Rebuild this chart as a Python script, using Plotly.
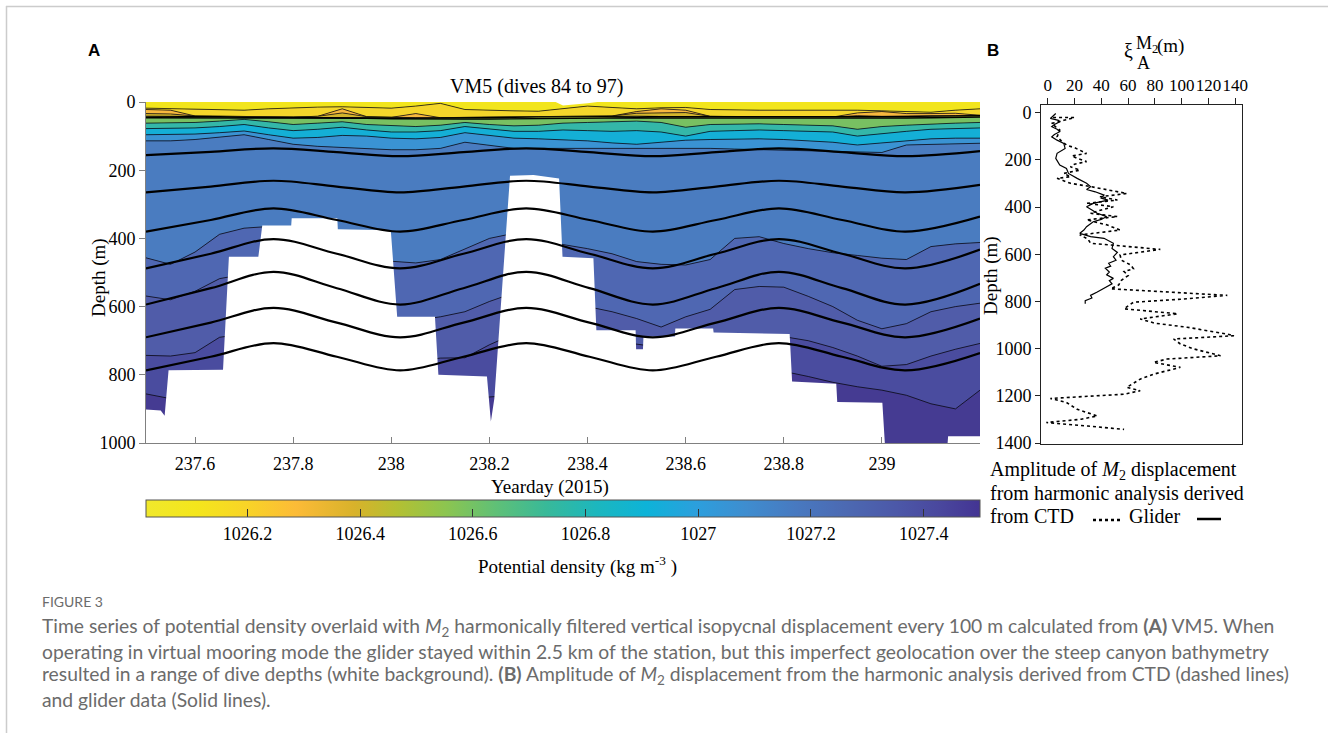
import plotly.graph_objects as go

W, H = 1328, 733
def px(x):
    return x / W
def py(y):
    return 1 - y / H

SERIF = "Liberation Serif, Times New Roman, serif"
SANS = "Liberation Sans, Arial, sans-serif"
CAP = "Lato, Roboto, sans-serif"

# ---------------- data: panel A ----------------
times = [237.50, 237.55, 237.60, 237.65, 237.70, 237.75, 237.80, 237.85, 237.90, 237.95,
         238.00, 238.05, 238.10, 238.15, 238.20, 238.25, 238.30, 238.35, 238.40, 238.45,
         238.50, 238.55, 238.60, 238.65, 238.70, 238.75, 238.80, 238.85, 238.90, 238.95,
         239.00, 239.05, 239.10, 239.15, 239.20]

# depth (m) of isopycnals
sig_1026_10 = [18, 20, 22, 23, 24, 20, 17, 15, 14, 16, 18, 12, 4, 22, 25, 26, 27, 20, 12, 16,
               20, 17, 16, 22, 24, 24, 24, 24, 23, 24, 26, 28, 30, 24, 20]
sig_1026_20 = [22, 24, 41, 42, 44, 44, 44, 42, 20, 43, 45, 34, 46, 45, 45, 44, 43, 42, 41, 41,
               28, 20, 24, 42, 43, 44, 44, 44, 44, 32, 28, 34, 34, 33, 39]
sig_1026_30 = [34, 35, 41, 42, 44, 44, 44, 42, 32, 43, 45, 46, 46, 45, 45, 44, 43, 42, 41, 41,
               33, 33, 31, 42, 43, 44, 44, 44, 44, 40, 42, 40, 40, 40, 39]
sig_1026_40 = [42, 42, 43, 43, 45, 45, 45, 44, 44, 45, 46, 47, 47, 46, 46, 45, 44, 43, 42, 42,
               42, 43, 43, 43, 44, 45, 45, 45, 45, 45, 44, 43, 42, 41, 40]
sig_1026_50 = [46, 46, 47, 47, 48, 48, 48, 47, 47, 48, 49, 50, 50, 50, 50, 49, 48, 47, 46, 46,
               46, 47, 47, 47, 48, 49, 49, 49, 49, 49, 48, 47, 46, 45, 44]
sig_1026_60 = [62, 62, 60, 56, 51, 58, 66, 62, 58, 66, 70, 72, 68, 60, 66, 70, 68, 62, 60, 58,
               56, 60, 74, 66, 64, 64, 66, 68, 70, 80, 72, 68, 64, 62, 60]
sig_1026_70 = [78, 78, 76, 72, 66, 76, 84, 80, 74, 82, 88, 88, 84, 72, 80, 86, 86, 82, 84, 86,
               84, 88, 100, 86, 84, 82, 84, 86, 88, 100, 92, 86, 80, 78, 76]
sig_1026_85 = [96, 96, 94, 90, 85, 96, 106, 104, 98, 100, 106, 108, 104, 90, 98, 106, 108, 110, 114, 120,
               124, 118, 112, 110, 108, 108, 110, 114, 118, 126, 120, 112, 108, 106, 106]
sig_1027_00 = [114, 114, 110, 104, 96, 110, 124, 130, 134, 138, 140, 140, 136, 118, 128, 136, 136, 136, 136, 134,
               134, 134, 134, 136, 138, 140, 142, 144, 146, 148, 148, 126, 124, 122, 121]
sig_1027_15 = [457, 476, 440, 388, 370, 365, 380, 410, 440, 462, 468, 472, 462, 430, 400, 385, 395, 418, 430, 445,
               468, 476, 478, 462, 400, 395, 415, 430, 442, 450, 458, 462, 424, 416, 412]
sig_1027_25 = [569, 580, 555, 518, 505, 500, 510, 540, 580, 610, 635, 640, 630, 615, 585, 560, 560, 580, 600, 615,
               635, 660, 630, 608, 550, 541, 543, 570, 600, 640, 665, 650, 615, 600, 590]
sig_1027_32 = [743, 745, 735, 690, 680, 675, 685, 710, 740, 760, 765, 760, 751, 750, 712, 680, 670, 680, 690, 700,
               710, 720, 715, 700, 690, 685, 688, 700, 720, 745, 775, 770, 745, 725, 708]
sig_1027_40 = [856, 870, 860, 855, 850, 850, 850, 850, 855, 860, 865, 870, 870, 868, 865, 860, 855, 850, 845, 840,
               835, 830, 820, 810, 800, 795, 790, 805, 822, 835, 845, 860, 885, 900, 845]

isopycnals = [sig_1026_10, sig_1026_20, sig_1026_30, sig_1026_40, sig_1026_50, sig_1026_60,
              sig_1026_70, sig_1026_85, sig_1027_00, sig_1027_15, sig_1027_25, sig_1027_32, sig_1027_40]
band_colors = ['#f2e51d', '#f4d62b', '#f7b83e', '#d3b52d', '#a9c03b', '#78c062', '#34b7a8',
               '#14afd6', '#3a93d3', '#4a7cc0', '#4f67b2', '#505ca9', '#4a4c9f']
line_widths = [0.7, 0.7, 0.7, 1.1, 1.4, 0.7, 0.7, 0.7, 0.7, 0.7, 0.7, 0.7, 0.7]
deep_color = '#453b92'

# maximum dive depth (bottom of sampled water column)
dive_t = [237.5, 237.53, 237.538, 237.546, 237.657, 237.669, 237.729, 237.737, 237.796, 237.797,
          237.89, 237.891, 237.999, 238.012, 238.089, 238.096, 238.195, 238.203, 238.21, 238.235,
          238.242, 238.29, 238.337, 238.342, 238.349, 238.412, 238.418, 238.498, 238.499, 238.513,
          238.514, 238.578, 238.579, 238.656, 238.657, 238.812, 238.817, 238.907, 238.909, 239.001,
          239.006, 239.134, 239.135, 239.2]
dive_d = [902, 905, 920, 787, 785, 454, 454, 362, 362, 341,
          341, 373, 376, 630, 630, 800, 805, 937, 870, 341,
          216, 214, 224, 224, 454, 458, 669, 669, 725, 725,
          688, 688, 664, 664, 676, 680, 820, 826, 880, 882,
          1000, 1000, 980, 980]
gap_t = [238.335, 238.42, 238.40, 238.35]
gap_d = [0, 0, 4, 10]

# M2 harmonic isopycnal displacement lines
m2_t = [237.5, 237.632, 237.76, 237.889, 238.018, 238.147, 238.275, 238.404, 238.533,
        238.662, 238.79, 238.919, 239.048, 239.2]
m2_lines = [
    [156, 146, 136, 147, 159, 147, 136, 147, 159, 147, 136, 147, 159, 144],
    [265, 248, 231, 248, 265, 248, 231, 248, 265, 248, 231, 248, 265, 243],
    [380, 346, 312, 346, 380, 346, 312, 346, 380, 346, 312, 346, 380, 336],
    [488, 445, 402, 445, 488, 445, 402, 445, 488, 445, 402, 445, 488, 433],
    [594, 546, 498, 546, 594, 546, 498, 546, 594, 546, 498, 546, 594, 533],
    [690, 647, 604, 647, 690, 647, 604, 647, 690, 647, 604, 647, 690, 635],
    [787, 747, 707, 747, 787, 747, 707, 747, 787, 747, 707, 747, 787, 736],
]

xticks_a = [237.6, 237.8, 238.0, 238.2, 238.4, 238.6, 238.8, 239.0]
xticklabels_a = ['237.6', '237.8', '238', '238.2', '238.4', '238.6', '238.8', '239']
yticks_a = [0, 200, 400, 600, 800, 1000]

cb_min, cb_max = 1026.02, 1027.5
cb_ticks = [1026.2, 1026.4, 1026.6, 1026.8, 1027.0, 1027.2, 1027.4]
cb_labels = ['1026.2', '1026.4', '1026.6', '1026.8', '1027', '1027.2', '1027.4']
cb_scale = [[0.00, '#f0e82c'], [0.06, '#f4e61c'], [0.12, '#f8d427'], [0.18, '#fcbb37'],
            [0.25, '#d8b22b'], [0.30, '#b4c032'], [0.36, '#8cc550'], [0.42, '#5fc077'],
            [0.48, '#38b999'], [0.54, '#1cb7be'], [0.60, '#0db3d8'], [0.66, '#2c9fdd'],
            [0.72, '#3f8dcf'], [0.78, '#4879c0'], [0.84, '#4c69b2'], [0.90, '#4c58a8'],
            [0.95, '#4a489e'], [1.00, '#433493']]

# ---------------- data: panel B ----------------
glider_depth = [3, 12, 24, 32, 38, 50, 59, 70, 80, 92, 102, 116, 130, 151, 172, 193, 210, 222, 236, 257,
                278, 299, 313, 325, 335, 349, 362, 370, 384, 398, 412, 426, 440, 452, 462, 483, 497, 511,
                525, 532, 553, 575, 592, 610, 625, 638, 650, 659, 675, 687, 702, 712, 725, 739, 753, 760,
                774, 785, 796, 810]
glider_amp = [6, 4, 2, 8, 9, 5, 3, 7, 9, 5, 3, 7, 12, 13, 7, 6, 8, 9, 14, 15.5,
              22, 29, 32, 29, 35.5, 42, 40, 45, 34, 29, 33, 37, 44, 40, 34, 29, 27, 24,
              32, 42, 49, 48, 52, 49, 51, 45.5, 47, 43, 46, 44, 49, 46, 48, 44, 39, 37,
              32, 33, 28, 28]
ctd_depth = [20, 20, 32, 45, 60, 73, 88, 102, 118, 137, 148, 158, 172, 183, 193, 207, 218, 229, 243, 257,
             271, 278, 299, 313, 328, 342, 356, 370, 384, 398, 412, 426, 440, 454, 475, 497, 518, 535,
             553, 567, 579, 590, 603, 625, 645, 661, 673, 690, 710, 730, 746, 774, 790, 803, 831, 852,
             874, 892, 909, 938, 945, 959, 980, 1001, 1030, 1044, 1058, 1079, 1108, 1129, 1164, 1178,
             1193, 1211, 1228, 1257, 1285, 1299, 1313, 1328, 1342]
ctd_amp = [4, 20, 12, 3, 6, 9, 8, 7, 10, 14, 20, 24, 29, 18, 22, 29, 20, 17, 24, 12,
           17, 7, 17, 32, 45, 59, 39, 52, 29, 49, 40, 32, 52, 29, 44, 54, 24, 30,
           32, 62, 84, 70, 54, 55, 62, 64, 57, 60, 55, 53, 47, 134, 100, 64, 57, 97,
           69, 80, 104, 134, 139, 94, 99, 109, 129, 89, 79, 99, 79, 69, 59, 69,
           57, 2, 14, 22, 37, 25, -1, 30, 57]
xticks_b = [0, 20, 40, 60, 80, 100, 120, 140]
yticks_b = [0, 200, 400, 600, 800, 1000, 1200, 1400]

# ---------------- figure ----------------
fig = go.Figure()

for i, (iso, col, lw) in enumerate(zip(isopycnals, band_colors, line_widths)):
    fig.add_trace(go.Scatter(
        x=times, y=iso, mode='lines', line=dict(color='black', width=lw),
        fill='tozeroy' if i == 0 else 'tonexty', fillcolor=col,
        hoverinfo='skip', showlegend=False, xaxis='x', yaxis='y'))

# unsampled water (white)
fig.add_trace(go.Scatter(
    x=dive_t + [239.25, 237.45], y=dive_d + [1020, 1020], mode='lines',
    line=dict(width=0, color='white'), fill='toself', fillcolor='white',
    hoverinfo='skip', showlegend=False, xaxis='x', yaxis='y'))
fig.add_trace(go.Scatter(
    x=gap_t, y=gap_d, mode='lines', line=dict(width=0, color='white'),
    fill='toself', fillcolor='white', hoverinfo='skip', showlegend=False,
    xaxis='x', yaxis='y'))

for ln in m2_lines:
    fig.add_trace(go.Scatter(
        x=m2_t, y=ln, mode='lines', line=dict(color='black', width=2.2, shape='spline', smoothing=1.0),
        hoverinfo='skip', showlegend=False, xaxis='x', yaxis='y'))

# colorbar carrier
fig.add_trace(go.Scatter(
    x=[237.3, 237.3], y=[-50, -50], mode='markers',
    marker=dict(color=[cb_min, cb_max], colorscale=cb_scale, cmin=cb_min, cmax=cb_max, size=1,
                showscale=True,
                colorbar=dict(orientation='h', x=px(146), xanchor='left', y=py(500), yanchor='top',
                              len=834, lenmode='pixels', thickness=17, thicknessmode='pixels',
                              xpad=0, ypad=0, outlinecolor='#555555', outlinewidth=1,
                              ticks='inside', ticklen=8, tickcolor='#333333',
                              tickvals=cb_ticks, ticktext=cb_labels,
                              tickfont=dict(family=SERIF, size=18, color='black'))),
    hoverinfo='skip', showlegend=False, xaxis='x', yaxis='y'))

# panel B
fig.add_trace(go.Scatter(x=ctd_amp, y=ctd_depth, mode='lines',
                         line=dict(color='black', width=1.6, dash='dot'),
                         hoverinfo='skip', showlegend=False, xaxis='x2', yaxis='y2'))
fig.add_trace(go.Scatter(x=glider_amp, y=glider_depth, mode='lines',
                         line=dict(color='black', width=1.2),
                         hoverinfo='skip', showlegend=False, xaxis='x2', yaxis='y2'))

tickfont = dict(family=SERIF, size=18, color='black')
fig.update_layout(
    width=W, height=H, margin=dict(l=0, r=0, t=0, b=0, pad=0, autoexpand=False),
    paper_bgcolor='white', plot_bgcolor='white', showlegend=False,
    xaxis=dict(domain=[px(146), px(980)], range=[237.5, 239.2], anchor='y',
               tickvals=xticks_a, ticktext=xticklabels_a, ticks='inside', ticklen=6,
               tickcolor='#808080', showline=True, linecolor='#808080', linewidth=1,
               showgrid=False, zeroline=False, tickfont=tickfont, layer='above traces',
               ticklabelstandoff=4, tickangle=0, automargin=False),
    yaxis=dict(domain=[py(443), py(102)], range=[1000, 0], anchor='x',
               tickvals=yticks_a, ticks='outside', ticklen=6, tickcolor='#808080',
               showline=True, linecolor='#808080', linewidth=1, showgrid=False,
               zeroline=False, tickfont=tickfont, layer='above traces', automargin=False),
    xaxis2=dict(domain=[px(1041), px(1242)], range=[-5, 145], anchor='y2', side='top',
                tickvals=xticks_b, ticks='outside', ticklen=6, tickcolor='#222222',
                showline=True, mirror=True, linecolor='#222222', linewidth=1,
                showgrid=False, zeroline=False, tickfont=dict(family=SERIF, size=17, color='black'),
                tickangle=0, automargin=False),
    yaxis2=dict(domain=[py(444), py(105)], range=[1404, -33], anchor='x2',
                tickvals=yticks_b, ticks='outside', ticklen=5, tickcolor='#222222',
                showline=True, mirror=True, linecolor='#222222', linewidth=1,
                showgrid=False, zeroline=False, tickfont=tickfont, automargin=False),
)

fig.add_shape(type='rect', xref='x', yref='y', x0=237.5, x1=239.2, y0=0, y1=1000,
              fillcolor=deep_color, line=dict(width=0), layer='below')
# page frame
fig.add_shape(type='line', xref='paper', yref='paper', x0=px(6), x1=1, y0=py(6.5), y1=py(6.5),
              line=dict(color='#cccccc', width=1.5))
fig.add_shape(type='line', xref='paper', yref='paper', x0=px(6.5), x1=px(6.5), y0=py(6), y1=0,
              line=dict(color='#cccccc', width=1.5))
# legend marks for panel B
fig.add_shape(type='line', xref='paper', yref='paper', x0=px(1093), x1=px(1123), y0=py(520), y1=py(520),
              line=dict(color='black', width=2.5, dash='dot'))
fig.add_shape(type='line', xref='paper', yref='paper', x0=px(1197), x1=px(1221), y0=py(519), y1=py(519),
              line=dict(color='black', width=2.5))

def ann(text, x, y, size=19, family=SERIF, color='black', xanchor='center', yanchor='middle', angle=0):
    fig.add_annotation(text=text, x=px(x), y=py(y), xref='paper', yref='paper', showarrow=False,
                       xanchor=xanchor, yanchor=yanchor, textangle=angle,
                       font=dict(family=family, size=size, color=color))

ann('<b>A</b>', 94, 50, size=17, family=SANS)
ann('<b>B</b>', 993, 50, size=17, family=SANS)
ann('VM5 (dives 84 to 97)', 536, 86, size=20)
ann('Yearday (2015)', 550, 487)
ann('Depth (m)', 99, 278, angle=-90)
ann('Depth (m)', 991, 275, angle=-90)
ann('Potential density (kg m<sup>-3</sup> )', 577, 565)
ann('ξ', 1128, 51, size=20)
ann('M<sub>2</sub>', 1134, 45, size=18, xanchor='left')
ann('A', 1135, 63, size=18, xanchor='left')
ann('(m)', 1155, 46, size=19, xanchor='left')
ann('Amplitude of <i>M</i><sub>2</sub> displacement', 988, 470, size=20, xanchor='left')
ann('from harmonic analysis derived', 988, 493, size=20, xanchor='left')
ann('from CTD', 988, 516, size=20, xanchor='left')
ann('Glider', 1127, 516, size=20, xanchor='left')

capc = '#6b6b6b'
ann('FIGURE 3', 40, 601, size=14, family=CAP, color=capc, xanchor='left')
ann('Time series of potential density overlaid with <i>M</i><sub>2</sub> harmonically filtered vertical '
    'isopycnal displacement every 100 m calculated from <b>(A)</b> VM5. When',
    40, 627, size=19.3, family=CAP, color=capc, xanchor='left')
ann('operating in virtual mooring mode the glider stayed within 2.5 km of the station, but this '
    'imperfect geolocation over the steep canyon bathymetry',
    40, 651, size=19.3, family=CAP, color=capc, xanchor='left')
ann('resulted in a range of dive depths (white background). <b>(B)</b> Amplitude of <i>M</i><sub>2</sub> '
    'displacement from the harmonic analysis derived from CTD (dashed lines)',
    40, 675, size=19.3, family=CAP, color=capc, xanchor='left')
ann('and glider data (Solid lines).', 40, 699, size=19.3, family=CAP, color=capc, xanchor='left')

fig.write_html("out.html", config={'displayModeBar': False},
               post_script="document.body.style.margin='0';document.body.style.overflow='hidden';")
